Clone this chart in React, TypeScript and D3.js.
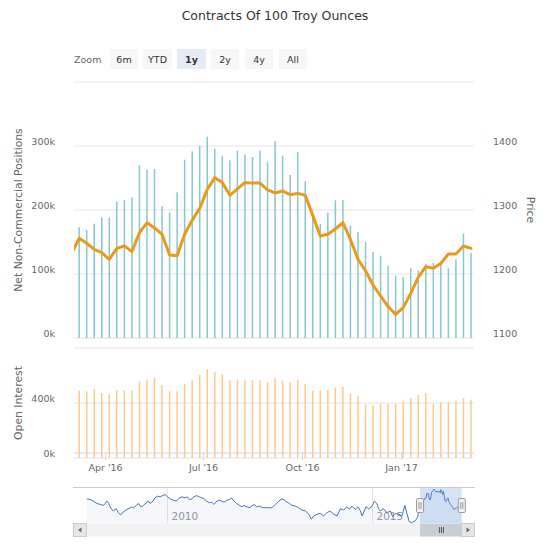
import React from 'react';
import * as d3 from 'd3';

// ---------- DATA ----------
const firstWeek = '2016-03-08';
const netPositions = [173, 168.8, 178.6, 188.5, 188.5, 213, 215.6, 219.8, 270, 263, 264, 205.7, 195.8, 227.6, 278.6, 291.7, 300, 314.6, 295.8, 284, 277.6, 292.7, 286.5, 282.8, 292.7,
  274.5, 307.8, 284.9, 254.7, 290.6, 244.8, 193.8, 178.6, 195.8, 215.1, 215.6, 175.5, 165.6, 150, 134.4, 128.6, 113, 97.4, 95.3, 108.9, 105.2, 115.6, 117.2, 115.6, 108.9, 122.9, 163, 132.8];
const openInterest = [489.7, 484.8, 501.8, 472.7, 465.5, 494.5, 489.7, 489.7, 557.6, 569.7, 584.2, 530.9, 484.8, 484.8, 538.2, 564.9, 603.6, 644.9, 625.5, 610.9, 564.9, 572.2, 564.9, 564.9, 564.9, 550.3, 584.2,
  562.4, 550.3, 569.7, 538.2, 489.7, 489.7, 497, 511.5, 516.4, 470.3, 450.9, 395.2, 383, 395.2, 395.2, 395.2, 417, 436.4, 458.2, 472.7, 392.7, 404.9, 404.9, 417, 436.4, 424.2];
const goldPrice = [1255.7, 1248, 1238.5, 1233.3, 1223, 1240, 1244, 1235, 1264.6, 1280, 1272, 1262, 1229.7, 1228.6, 1262, 1284, 1302.6, 1332, 1350.5, 1343, 1323, 1333, 1343, 1342, 1342,
  1331.3, 1326.6, 1329.7, 1323.9, 1326, 1322.9, 1291.6, 1259.3, 1262, 1270.3, 1280.3, 1254, 1223, 1205, 1182.8, 1165.6, 1149, 1137, 1147.4, 1169.8, 1194.8, 1211.4, 1209, 1216.7, 1231.3, 1231.3, 1243.8, 1240];
const priceBeforeDate = '2016-03-01';
const priceBefore = 1232;

const leftTicks = [0, 100, 200, 300, 400];
const rightTicks = [1100, 1200, 1300, 1400];
const oiTicks = [0, 400, 800];
const xTickDates = ['2016-04-01', '2016-07-01', '2016-10-01', '2017-01-01'];
const xTickLabels = ["Apr '16", "Jul '16", "Oct '16", "Jan '17"];
const zoomButtons = ['6m', 'YTD', '1y', '2y', '4y', 'All'];
const selectedButton = '1y';
const navYearTicks = [2010, 2015];

// navigator history (decimal year, net positions k) before the weekly window
const navHistory: [number, number][] = [
  [2008.05, 208], [2008.13, 201], [2008.21, 184], [2008.30, 159], [2008.38, 148], [2008.46, 138], [2008.50, 159], [2008.54, 184], [2008.58, 166], [2008.62, 123],
  [2008.66, 95], [2008.70, 77], [2008.77, 102], [2008.82, 59], [2008.88, 35], [2008.94, 66], [2009.03, 95], [2009.11, 113], [2009.15, 123], [2009.19, 109],
  [2009.23, 130], [2009.31, 159], [2009.37, 123], [2009.43, 138], [2009.50, 166], [2009.55, 184], [2009.59, 159], [2009.67, 184], [2009.71, 219], [2009.77, 237],
  [2009.84, 230], [2009.90, 244], [2009.96, 255], [2010.02, 230], [2010.08, 208], [2010.16, 194], [2010.23, 184], [2010.28, 208], [2010.36, 230], [2010.45, 219],
  [2010.50, 230], [2010.55, 201], [2010.61, 208], [2010.66, 230], [2010.73, 244], [2010.79, 230], [2010.85, 219], [2010.91, 208], [2010.97, 184], [2011.04, 166],
  [2011.09, 173], [2011.15, 148], [2011.22, 184], [2011.28, 194], [2011.34, 184], [2011.40, 173], [2011.46, 194], [2011.53, 201], [2011.58, 219], [2011.64, 184],
  [2011.70, 159], [2011.77, 138], [2011.83, 123], [2011.88, 138], [2011.95, 123], [2012.01, 113], [2012.07, 130], [2012.13, 148], [2012.19, 123], [2012.26, 130],
  [2012.34, 113], [2012.43, 113], [2012.56, 112], [2012.65, 148], [2012.73, 184], [2012.81, 208], [2012.87, 194], [2012.93, 173], [2012.99, 159], [2013.05, 138],
  [2013.13, 130], [2013.21, 113], [2013.29, 88], [2013.38, 77], [2013.46, 42], [2013.52, -12], [2013.58, 24], [2013.66, 42], [2013.74, 52], [2013.82, 24],
  [2013.90, 59], [2013.98, 77], [2014.07, 42], [2014.15, 24], [2014.23, 102], [2014.31, 88], [2014.39, 123], [2014.45, 95], [2014.51, 130], [2014.59, 95],
  [2014.66, 123], [2014.72, 77], [2014.76, 24], [2014.80, 66], [2014.85, 123], [2014.92, 102], [2015.00, 130], [2015.06, 184], [2015.12, 159], [2015.16, 102],
  [2015.20, 77], [2015.28, 102], [2015.36, 59], [2015.45, 77], [2015.50, 17], [2015.57, 52], [2015.65, 42], [2015.73, 24], [2015.80, 138], [2015.85, 52],
  [2015.91, -40], [2015.97, -47], [2016.05, -29], [2016.11, 6], [2016.13, 60], [2016.16, 125],
];

// ---------- HELPERS ----------
const parse = d3.timeParse('%Y-%m-%d');
const weekDates = netPositions.map((_, i) => d3.timeDay.offset(parse(firstWeek) as Date, 7 * i));
const decYear = (y: number) => {
  const yi = Math.floor(y);
  return d3.timeDay.offset(new Date(yi, 0, 1), (y - yi) * 365.25);
};

const FONT = 'DejaVu Sans, sans-serif';
const GRID = '#e6e6e6';
const AXIS = '#ccd6eb';
const LABEL = '#666666';
const NET_COLOR = '#88c6d3';
const OI_COLOR = '#ffc98a';
const PRICE_COLOR = '#ea9a1b';

export default function App() {
  const L = 74, R = 474;
  const x = d3.scaleTime().domain([new Date(2016, 2, 3, 5), new Date(2017, 2, 9, 19)]).range([L, R]);
  const yNet = d3.scaleLinear().domain([0, 400]).range([338, 82]);
  const yPrice = d3.scaleLinear().domain([1100, 1500]).range([338, 82]);
  const yOI = d3.scaleLinear().domain([0, 800]).range([458, 348]);

  const priceData: [Date, number][] = [[parse(priceBeforeDate) as Date, priceBefore], ...goldPrice.map((v, i) => [weekDates[i], v] as [Date, number])];
  const priceLine = d3.line<[Date, number]>().x(d => x(d[0])).y(d => yPrice(d[1]))(priceData) || '';

  // navigator
  const navData: [Date, number][] = [
    ...navHistory.map(([yr, v]) => [decYear(yr), v] as [Date, number]),
    ...netPositions.map((v, i) => [weekDates[i], v] as [Date, number]),
  ];
  const navL = 86.7, navR = 461.5;
  const navX = d3.scaleTime().domain([navData[0][0], navData[navData.length - 1][0]]).range([navL, navR]);
  const navExt = d3.extent(navData, d => d[1]) as [number, number];
  const navY = d3.scaleLinear().domain(navExt).range([522.5, 489]);
  const navLine = d3.line<[Date, number]>().x(d => navX(d[0])).y(d => navY(d[1]))(navData) || '';
  const navArea = d3.area<[Date, number]>().x(d => navX(d[0])).y0(523).y1(d => navY(d[1]))(navData) || '';
  const selA = navX(x.domain()[0]);
  const selB = Math.min(navX(x.domain()[1]), 462);

  const btnX = [110, 143, 177, 211, 245, 279];
  const btnW = [28, 29, 29, 28, 28, 28];

  return (
    <svg width={550} height={550} style={{ position: 'absolute', left: 0, top: 0, fontFamily: FONT }}>
      <defs>
        <clipPath id="mainClip"><rect x={L} y={60} width={R - L} height={410} /></clipPath>
        <clipPath id="navClip"><rect x={navL} y={486} width={462 - navL} height={38} /></clipPath>
      </defs>
      <rect x={0} y={0} width={550} height={550} fill="#ffffff" />

      {/* title */}
      <text x={275} y={20} textAnchor="middle" fontSize={12.5} fill="#333333">Contracts Of 100 Troy Ounces</text>

      {/* range selector */}
      <text x={74} y={63} fontSize={9.5} fill={LABEL}>Zoom</text>
      {zoomButtons.map((b, i) => (
        <g key={b}>
          <rect x={btnX[i]} y={49} width={btnW[i]} height={20} fill={b === selectedButton ? '#e6ebf5' : '#f7f7f7'} />
          <text x={btnX[i] + btnW[i] / 2} y={63} textAnchor="middle" fontSize={9.5} fill="#333333" fontWeight={b === selectedButton ? 'bold' : 'normal'}>{b}</text>
        </g>
      ))}

      {/* top pane grid */}
      {leftTicks.map(t => (
        <line key={'g' + t} x1={L} x2={R} y1={yNet(t)} y2={yNet(t)} stroke={GRID} strokeWidth={1} />
      ))}
      {leftTicks.filter(t => t < 400).map(t => (
        <text key={'l' + t} x={55} y={yNet(t) - 1} textAnchor="end" fontSize={9.5} fill={LABEL}>{t}k</text>
      ))}
      {rightTicks.map(t => (
        <text key={'r' + t} x={493} y={yPrice(t) - 1} textAnchor="start" fontSize={9.5} fill={LABEL}>{t}</text>
      ))}
      <text transform="translate(22,210) rotate(-90)" textAnchor="middle" fontSize={10.8} fill={LABEL}>Net Non-Commercial Positions</text>
      <text transform="translate(527,210) rotate(90)" textAnchor="middle" fontSize={10.8} fill={LABEL}>Price</text>

      {/* bottom pane grid */}
      {oiTicks.map(t => (
        <line key={'og' + t} x1={L} x2={R} y1={yOI(t)} y2={yOI(t)} stroke={GRID} strokeWidth={1} />
      ))}
      {oiTicks.filter(t => t < 800).map(t => (
        <text key={'ol' + t} x={55} y={yOI(t) - 1} textAnchor="end" fontSize={9.5} fill={LABEL}>{t}k</text>
      ))}
      <text transform="translate(22,403) rotate(-90)" textAnchor="middle" fontSize={10.8} fill={LABEL}>Open Interest</text>

      <g clipPath="url(#mainClip)">
        {netPositions.map((v, i) => (
          <rect key={'n' + i} x={x(weekDates[i]) - 0.75} width={1.5} y={yNet(v)} height={yNet(0) - yNet(v)} fill={NET_COLOR} />
        ))}
        {openInterest.map((v, i) => (
          <rect key={'o' + i} x={x(weekDates[i]) - 0.75} width={1.5} y={yOI(v)} height={yOI(0) - yOI(v)} fill={OI_COLOR} />
        ))}
        <path d={priceLine} fill="none" stroke={PRICE_COLOR} strokeWidth={3} strokeLinejoin="round" strokeLinecap="round" />
      </g>

      {/* x axis */}
      <line x1={L} x2={R} y1={453} y2={453} stroke={AXIS} strokeWidth={1} />
      {xTickDates.map((d, i) => {
        const px = Math.round(x(parse(d) as Date)) + 0.5;
        return (
          <g key={d}>
            <line x1={px} x2={px} y1={453} y2={460} stroke={AXIS} strokeWidth={1} />
            <text x={px} y={471} textAnchor="middle" fontSize={9.5} fill={LABEL}>{xTickLabels[i]}</text>
          </g>
        );
      })}

      {/* navigator */}
      <line x1={73} x2={475} y1={487.5} y2={487.5} stroke="#cccccc" strokeWidth={1} />
      {navYearTicks.map(yr => {
        const px = Math.round(navX(new Date(yr, 0, 1))) + 0.5;
        return (
          <g key={yr}>
            <line x1={px} x2={px} y1={488} y2={523} stroke={GRID} strokeWidth={1} />
            <text x={px + 4} y={520} fontSize={10.5} fill="#999999">{yr}</text>
          </g>
        );
      })}
      <g clipPath="url(#navClip)">
        <path d={navArea} fill="rgba(51,92,173,0.05)" />
        <path d={navLine} fill="none" stroke="#4a72b8" strokeWidth={1} />
      </g>
      <rect x={selA} y={488} width={selB - selA} height={35} fill="rgba(102,153,220,0.28)" />
      {[selA, selB].map((hx, i) => (
        <g key={'h' + i}>
          <rect x={hx - 3.5} y={498.5} width={7} height={14} rx={1} fill="#f2f2f2" stroke="#999999" strokeWidth={1} />
          <line x1={hx - 1} x2={hx - 1} y1={502} y2={509} stroke="#999999" />
          <line x1={hx + 1} x2={hx + 1} y1={502} y2={509} stroke="#999999" />
        </g>
      ))}

      {/* scrollbar */}
      <rect x={73} y={523.5} width={402} height={13} fill="#f2f2f2" />
      <rect x={73.5} y={523.5} width={13} height={13} fill="#e6e6e6" stroke="#cccccc" />
      <path d="M81.5,527.5 L78,530 L81.5,532.5 Z" fill="#666666" />
      <rect x={461.5} y={523.5} width={13} height={13} fill="#e6e6e6" stroke="#cccccc" />
      <path d="M466.5,527.5 L470,530 L466.5,532.5 Z" fill="#666666" />
      <rect x={selA} y={523.5} width={selB - selA} height={13} fill="#c9ced6" />
      {[-2, 0, 2].map(o => (
        <line key={'gr' + o} x1={(selA + selB) / 2 + o + 0.5} x2={(selA + selB) / 2 + o + 0.5} y1={527} y2={533} stroke="#555555" strokeWidth={1} />
      ))}
    </svg>
  );
}
